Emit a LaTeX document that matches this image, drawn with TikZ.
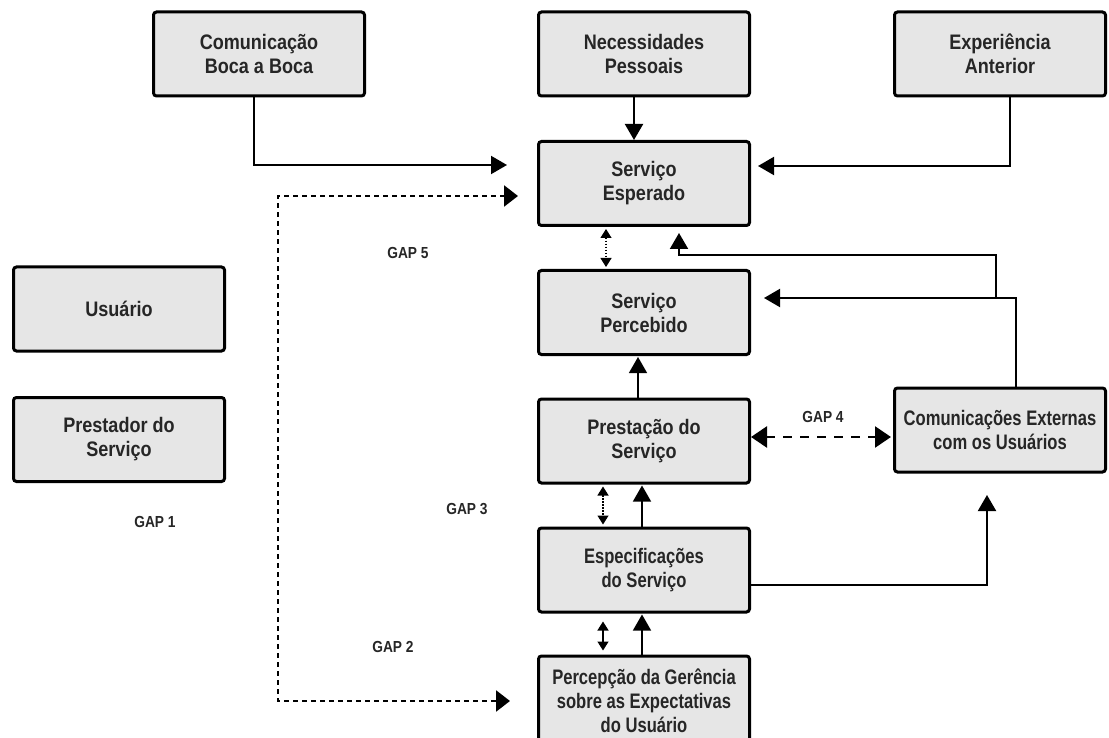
\documentclass[tikz,border=0pt]{standalone}
\usepackage{fontspec}
\setmainfont{Liberation Sans}[FakeStretch=0.86]
\newfontfamily\tightfont{Liberation Sans}[FakeStretch=0.79]
\usetikzlibrary{arrows.meta,positioning}
\definecolor{gapFill}{HTML}{E6E6E6}
\definecolor{gapInk}{HTML}{262626}
\newcommand{\boxfont}{\bfseries\fontsize{21}{24}\selectfont}
\newcommand{\labelfont}{\bfseries\fontsize{16}{18}\selectfont}
\tikzset{
  stage/.style={draw=black,fill=gapFill,text=gapInk,line width=3pt,rounded corners=3pt,
    minimum width=211pt,minimum height=84pt,inner sep=2pt,align=center,font=\boxfont},
  tight/.style={font=\tightfont\boxfont},
  link/.style={line width=2pt,-{Triangle[length=16pt,width=18pt]}},
  thinlink/.style={line width=1.3pt,-{Triangle[length=16pt,width=18pt]}},
  gapline/.style={line width=2.5pt,dash pattern=on 4.5pt off 4.5pt,
    {Triangle[length=14pt,width=21pt]}-{Triangle[length=14pt,width=21pt]}},
  gapdash/.style={line width=2.5pt,dash pattern=on 9pt off 8pt,
    {Triangle[length=16pt,width=21pt]}-{Triangle[length=16pt,width=21pt]}},
  dotpair/.style={line width=1.2pt,dash pattern=on 1.5pt off 1.5pt,
    {Triangle[length=9pt,width=11pt]}-{Triangle[length=9pt,width=11pt]}},
  solidpair/.style={line width=1.3pt,{Triangle[length=9pt,width=11pt]}-{Triangle[length=9pt,width=11pt]}},
  gaplabel/.style={text=gapInk,font=\labelfont,inner sep=0pt}
}

\begin{document}
\begin{tikzpicture}[x=1pt,y=-1pt]
  \useasboundingbox (0,0) rectangle (1109,738);

  % upper row
  \node[stage] (boca) at (259,54) {Comunicação\\Boca a Boca};
  \node[stage] (necess) at (644,54) {Necessidades\\Pessoais};
  \node[stage] (exper) at (1000,54) {Experiência\\Anterior};

  % central column
  \node[stage] (esperado) at (644,183.5) {Serviço\\Esperado};
  \node[stage] (percebido) at (644,312.5) {Serviço\\Percebido};
  \node[stage] (prestacao) at (644,441) {Prestação do\\Serviço};
  \node[stage,tight] (especif) at (644,570) {Especificações\\do Serviço};
  \node[stage,tight,minimum height=90pt] (percepcao) at (644,701)
    {Percepção da Gerência\\sobre as Expectativas\\do Usuário};
  \node[stage,tight] (comext) at (1000,430) {Comunicações Externas\\com os Usuários};

  % legend boxes
  \node[stage] (usuario) at (119,309) {Usuário};
  \node[stage] (prestador) at (119,439.5) {Prestador do\\Serviço};

  % free ends
  \coordinate (inBoca) at (507,165);
  \coordinate (inExper) at (758,166);
  \coordinate (inGap5) at (518,196);
  \coordinate (gapTurn) at (278,701);
  \coordinate (inGap2) at (510,701);
  \coordinate (inPerceb) at (764,298);
  \coordinate (fbSplit) at (996,298);
  \coordinate (inEsper) at (679,233);
  \coordinate (inComExt) at (987,495);

  % influences on expected service
  \draw[link] ([xshift=-5pt]boca.south) |- (inBoca);
  \draw[link] ([xshift=-10pt]necess.south) -- ([xshift=-10pt]esperado.north);
  \draw[link] ([xshift=10pt]exper.south) |- (inExper);

  % GAP 5 / GAP 2
  \draw[gapline] (inGap5) -| (gapTurn) -- (inGap2);
  \draw[dotpair,shorten <=2pt,shorten >=2pt] ([xshift=-38pt]esperado.south) -- ([xshift=-38pt]percebido.north);

  % external communications feedback
  \draw[link] ([xshift=16pt]comext.north) |- (inPerceb);
  \draw[link] (fbSplit) -- ++(0,-43) -| (inEsper);

  % GAP 4
  \draw[gapdash,shorten >=2pt] ([yshift=4pt]prestacao.east) -- ([yshift=4pt]prestacao.east -| comext.west);

  % lower column
  \draw[thinlink,shorten >=1pt] ([xshift=-6pt]prestacao.north) -- ([xshift=-6pt]percebido.south);
  \draw[dotpair,shorten <=2pt,shorten >=2pt] ([xshift=-41pt]prestacao.south) -- ([xshift=-41pt]especif.north);
  \draw[thinlink,shorten >=1pt] ([xshift=-2pt]especif.north) -- ([xshift=-2pt]prestacao.south);
  \draw[link] ([yshift=-15pt]especif.east) -| (inComExt);
  \draw[solidpair,shorten <=8pt,shorten >=4pt] ([xshift=-41pt]especif.south) -- ([xshift=-41pt]percepcao.north);
  \draw[thinlink,shorten >=1pt] ([xshift=-2pt]percepcao.north) -- ([xshift=-2pt]especif.south);

  % gap labels
  \node[gaplabel] (gap5) at (408,253) {GAP 5};
  \node[gaplabel] (gap4) at (823,417) {GAP 4};
  \node[gaplabel] (gap3) at (467,509) {GAP 3};
  \node[gaplabel] (gap2) at (393,647) {GAP 2};
  \node[gaplabel] (gap1) at (155,522) {GAP 1};
\end{tikzpicture}
\end{document}
